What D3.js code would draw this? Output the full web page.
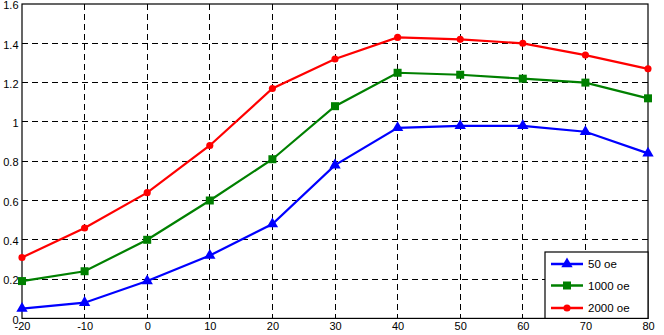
<!DOCTYPE html>
<html><head><meta charset="utf-8">
<script src="https://cdn.jsdelivr.net/npm/d3@7/dist/d3.min.js"></script>
<style>body{margin:0;background:#fff}svg{display:block}text{font-family:"Liberation Sans",Arial,sans-serif;font-size:11px;fill:#000}</style>
</head><body><svg id="c" width="664" height="335"></svg>
<script>
const xValues = [-20,-10,0,10,20,30,40,50,60,70,80];
const s50 = [0.05,0.08,0.19,0.32,0.48,0.78,0.97,0.98,0.98,0.95,0.84];
const s1000 = [0.19,0.24,0.40,0.60,0.81,1.08,1.25,1.24,1.22,1.20,1.12];
const s2000 = [0.31,0.46,0.64,0.88,1.17,1.32,1.43,1.42,1.40,1.34,1.27];
const seriesNames = ["50 oe","1000 oe","2000 oe"];
const xTicks = [-20,-10,0,10,20,30,40,50,60,70,80];
const yTicks = [0,0.2,0.4,0.6,0.8,1,1.2,1.4,1.6];

const series = [
  {name:seriesNames[0], values:s50, color:"#0000ff", marker:"triangle"},
  {name:seriesNames[1], values:s1000, color:"#008000", marker:"square"},
  {name:seriesNames[2], values:s2000, color:"#ff0000", marker:"circle"}
];
const svg = d3.select("#c");
const L=22, R=648, T=4, B=318.4;
const x = d3.scaleLinear().domain([-20,80]).range([L,R]);
const y = d3.scaleLinear().domain([0,1.6]).range([B,T]);

// grid
const g = svg.append("g");
g.selectAll(".vg").data(xTicks.slice(1,-1)).enter().append("line")
  .attr("x1",d=>x(d)).attr("x2",d=>x(d)).attr("y1",T).attr("y2",B)
  .attr("stroke","#000").attr("stroke-width",1).attr("stroke-dasharray","6,4").attr("shape-rendering","crispEdges");
g.selectAll(".hg").data(yTicks.slice(1,-1)).enter().append("line")
  .attr("y1",d=>y(d)).attr("y2",d=>y(d)).attr("x1",L).attr("x2",R)
  .attr("stroke","#000").attr("stroke-width",1).attr("stroke-dasharray","6,4").attr("shape-rendering","crispEdges");

// axes
const fmt = d => String(d);
const xa = svg.append("g").attr("transform",`translate(0,${B})`).call(d3.axisBottom(x).tickValues(xTicks).tickFormat(fmt).tickSize(0).tickPadding(4));
const ya = svg.append("g").attr("transform",`translate(${L},1.2)`).call(d3.axisLeft(y).tickValues(yTicks).tickFormat(fmt).tickSize(0).tickPadding(3.5));
[xa,ya].forEach(a=>{a.select(".domain").remove(); a.selectAll("text").style("font-family",'"Liberation Sans",Arial,sans-serif').style("font-size","11px").attr("fill","#000");});
svg.append("rect").attr("x",L).attr("y",T).attr("width",R-L).attr("height",B-T)
  .attr("fill","none").attr("stroke","#000").attr("stroke-width",1.2);

// series
const line = d3.line().x((d,i)=>x(xValues[i])).y(d=>y(d));
const sym = {triangle:d3.symbol().type(d3.symbolTriangle).size(56),
             square:d3.symbol().type(d3.symbolSquare).size(64),
             circle:d3.symbol().type(d3.symbolCircle).size(40)};
series.forEach(s=>{
  svg.append("path").datum(s.values).attr("d",line).attr("fill","none")
    .attr("stroke",s.color).attr("stroke-width",2.2);
  svg.selectAll(null).data(s.values).enter().append("path")
    .attr("d",sym[s.marker]())
    .attr("transform",(d,i)=>`translate(${x(xValues[i])},${y(d)})`)
    .attr("fill",s.color);
});

// legend
const lg = svg.append("g");
lg.append("rect").attr("x",545).attr("y",252).attr("width",R-545).attr("height",B-252)
  .attr("fill","#fff").attr("stroke","#000").attr("stroke-width",1.2);
const rowsY=[264,285.5,308];
series.forEach((s,i)=>{
  lg.append("line").attr("x1",551).attr("x2",583).attr("y1",rowsY[i]).attr("y2",rowsY[i])
    .attr("stroke",s.color).attr("stroke-width",2.5);
  lg.append("path").attr("d",sym[s.marker]()).attr("transform",`translate(567,${rowsY[i]})`).attr("fill",s.color);
  lg.append("text").attr("x",588).attr("y",rowsY[i]+4).style("font-size","11.5px").text(s.name);
});
</script></body></html>
